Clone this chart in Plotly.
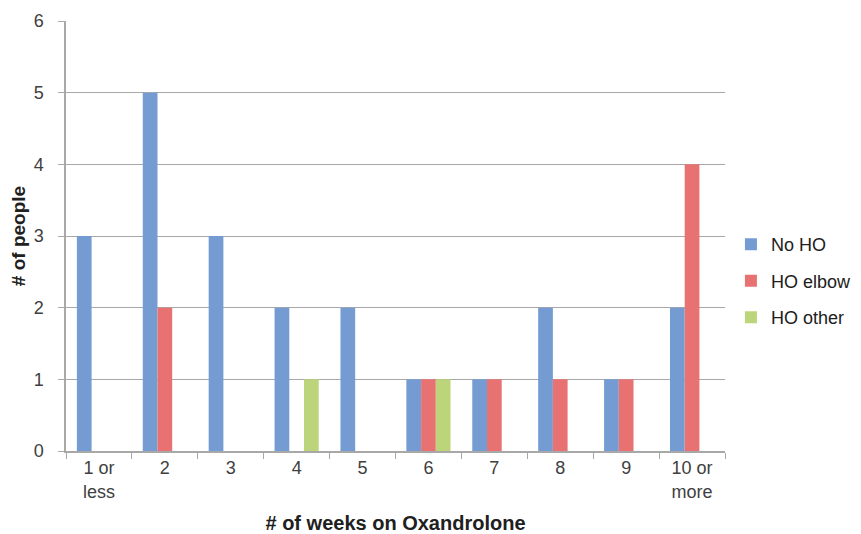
import plotly.graph_objects as go

categories = ["1 or<br>less", "2", "3", "4", "5", "6", "7", "8", "9", "10 or<br>more"]
no_ho = [3, 5, 3, 2, 2, 1, 1, 2, 1, 2]
ho_elbow = [0, 2, 0, 0, 0, 1, 1, 1, 1, 4]
ho_other = [0, 0, 0, 1, 0, 1, 0, 0, 0, 0]
y_ticks = [0, 1, 2, 3, 4, 5, 6]

series = [
    ("No HO", no_ho, "#749CD3"),
    ("HO elbow", ho_elbow, "#E87272"),
    ("HO other", ho_other, "#BCD57A"),
]

FONT = "Liberation Sans, Arial, sans-serif"
GRID = "#A8A8A8"

fig = go.Figure()
for i, (name, vals, col) in enumerate(series):
    fig.add_trace(go.Bar(
        x=categories, y=vals, name=name, legendgroup=name,
        marker=dict(color=col, line=dict(width=0)),
    ))

fig.update_layout(
    width=869, height=534,
    margin=dict(l=58, r=152, t=13, b=91),
    paper_bgcolor="white", plot_bgcolor="white",
    barmode="group", bargap=0.33, bargroupgap=0,
    font=dict(family=FONT, size=18, color="#404040"),
    legend=dict(x=1.009, y=0.395, xanchor="left", yanchor="middle",
                font=dict(size=18, color="#202020"), tracegroupgap=10,
                itemwidth=30),
    showlegend=True,
)
fig.update_xaxes(
    showline=True, linecolor=GRID, linewidth=1.5,
    ticks="outside", tickson="boundaries", ticklen=6, tickcolor=GRID, tickwidth=1.2,
    showgrid=False, tickfont=dict(size=18, color="#404040"),
    title=dict(text="<b># of weeks on Oxandrolone</b>", font=dict(size=20, color="#202020"), standoff=15),
    automargin=False,
)
fig.update_yaxes(
    range=[0, 6], tickvals=y_ticks,
    showline=True, linecolor=GRID, linewidth=1.5,
    ticks="outside", ticklen=6, tickcolor=GRID, tickwidth=1.2,
    showgrid=True, gridcolor=GRID, gridwidth=1.3, zeroline=False,
    tickfont=dict(size=18, color="#404040"), ticklabelstandoff=11,
    title=dict(text="<b># of people</b>", font=dict(size=19, color="#202020"), standoff=3),
    automargin=False,
)

fig.write_html("out.html")
